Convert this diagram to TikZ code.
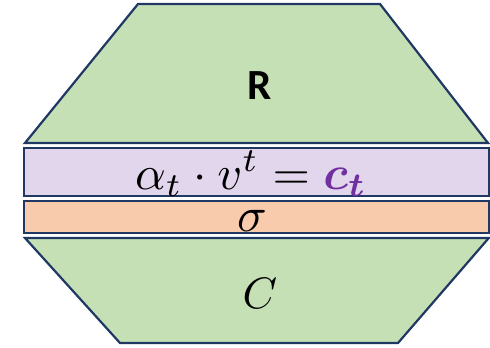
\documentclass[tikz,border=0pt]{standalone}
\usepackage{bm}
\usepackage{fontspec}
\newfontfamily\carlito{Carlito}
\definecolor{edge}{HTML}{1F3864}
\definecolor{greenfill}{HTML}{C5E0B4}
\definecolor{lilac}{HTML}{E2D6EC}
\definecolor{peach}{HTML}{F8CBAD}
\definecolor{violet}{HTML}{7030A0}
\tikzset{
  part/.style={draw=edge, line width=2.2pt, line join=miter},
}
\begin{document}
\begin{tikzpicture}[x=1pt,y=-1pt]
\useasboundingbox (0,0) rectangle (490,348);
\filldraw[part, fill=greenfill] (138,4) -- (380,4) -- (488,143) -- (25,143) -- cycle;
\filldraw[part, fill=lilac] (24,148) rectangle (488.8,196);
\filldraw[part, fill=peach] (24,201) rectangle (488.8,233);
\filldraw[part, fill=greenfill] (25,238) -- (488.8,238) -- (398,343) -- (120,343) -- cycle;
\node[anchor=base, font=\carlito\bfseries\fontsize{43}{50}\selectfont, inner sep=0] (r) at (260,99) {R};
\node[anchor=base, scale=4.8, inner sep=0] (eq) at (251,189) {$\alpha_t \cdot v^t = {\color{violet}\bm{c_t}}$};
\node[anchor=base, scale=4.9, inner sep=0] (sig) at (252,231) {$\sigma$};
\node[anchor=base, scale=4.4, inner sep=0] (c) at (260,308) {$C$};
\end{tikzpicture}
\end{document}
